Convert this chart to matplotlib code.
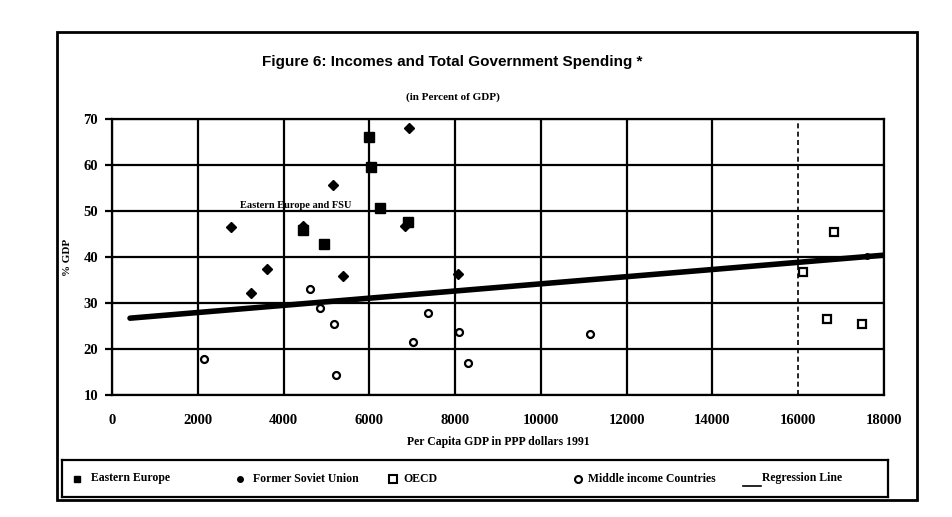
import matplotlib.pyplot as plt
from matplotlib.patches import Rectangle
from matplotlib.lines import Line2D

# data
ee_gdp = [6000, 6050, 6260, 4460, 4950, 6900]
ee_spend = [66.0, 59.6, 50.6, 45.8, 42.8, 47.7]

fsu_gdp = [6930, 5150, 2770, 4460, 6830, 3620, 5390, 8070, 3250]
fsu_spend = [68.0, 55.7, 46.5, 46.8, 46.7, 37.5, 35.9, 36.4, 32.2]

oecd_gdp = [16830, 16120, 16660, 17480, 17600]
oecd_spend = [45.5, 36.7, 26.5, 25.5, 40.2]

mic_gdp = [4620, 4850, 5180, 2150, 5220, 7370, 7020, 8100, 8290, 11140]
mic_spend = [33.0, 29.0, 25.4, 17.8, 14.3, 27.9, 21.5, 23.8, 17.0, 23.3]

reg_gdp = [420, 18000]
reg_spend = [26.7, 40.4]

x_ticks = list(range(0, 18001, 2000))
y_ticks = list(range(10, 71, 10))

legend_labels = ["Eastern Europe", "Former Soviet Union", "OECD",
                 "Middle income Countries", "Regression Line"]

serif = "Liberation Serif"
sans = "Liberation Sans"

W, H = 952, 517
fig = plt.figure(figsize=(W / 100, H / 100), dpi=100)


def fx(px):
    return px / W


def fy(py):
    return 1 - py / H


# outer frame
fig.add_artist(Rectangle((fx(57), fy(500)), fx(917) - fx(57), fy(32) - fy(500),
                         transform=fig.transFigure, fill=False, lw=2, ec="black"))

ax = fig.add_axes([fx(112), fy(395), fx(884) - fx(112), fy(119) - fy(395)])
ax.set_xlim(0, 18000)
ax.set_ylim(10, 70)
ax.set_xticks(x_ticks)
ax.set_yticks(y_ticks)
ax.grid(True, color="black", lw=1.6)
ax.set_axisbelow(True)
# the 16000 gridline prints broken in the original
ax.xaxis.get_gridlines()[8].set_linestyle((0, (3, 2)))
ax.xaxis.get_gridlines()[8].set_linewidth(1.2)
for s in ax.spines.values():
    s.set_linewidth(1.6)

ax.tick_params(axis="y", length=5, width=1.6, pad=5, labelsize=10.5)
ax.tick_params(axis="x", length=0, pad=14, labelsize=10.5)
for lab in ax.get_xticklabels() + ax.get_yticklabels():
    lab.set_fontfamily(serif)
    lab.set_fontweight("bold")

ax.plot(ee_gdp, ee_spend, "s", color="black", ms=6.5, zorder=3)
ax.plot(fsu_gdp, fsu_spend, "D", color="black", ms=5, zorder=3)
ax.plot(oecd_gdp[:-1], oecd_spend[:-1], "s", mfc="white", mec="black", mew=1.6, ms=5.5, zorder=3)
# last OECD point sits under the regression line
ax.plot(oecd_gdp[-1:], oecd_spend[-1:], "o", color="black", ms=4, zorder=5)
ax.plot(mic_gdp, mic_spend, "o", mfc="white", mec="black", mew=1.6, ms=5, zorder=3)
ax.plot(reg_gdp, reg_spend, "-", color="black", lw=4, solid_capstyle="round", zorder=4)

ax.text(4280, 51.3, "Eastern Europe and FSU", family=serif, weight="bold",
        fontsize=7.5, ha="center", va="center", zorder=5)

ax.set_xlabel("Per Capita GDP in PPP dollars 1991", family=serif, weight="bold",
              fontsize=8.5, labelpad=6)
ax.set_ylabel("% GDP", family=serif, weight="bold", fontsize=8, labelpad=8)

fig.text(fx(452), fy(62), "Figure 6: Incomes and Total Government Spending *",
         family=sans, weight="bold", fontsize=11, ha="center", va="center")
fig.text(fx(453), fy(97), "(in Percent of GDP)", family=serif, weight="bold",
         fontsize=8, ha="center", va="center")

# legend box along the bottom
lax = fig.add_axes([fx(62), fy(497), fx(888) - fx(62), fy(460) - fy(497)])
lax.set_xlim(62, 888)
lax.set_ylim(0, 1)
lax.set_xticks([])
lax.set_yticks([])
for s in lax.spines.values():
    s.set_linewidth(1.6)

ly = 0.5
lax.plot(77, ly, "s", color="black", ms=5)
lax.plot(240, ly, "o", color="black", ms=4)
lax.plot(393, ly, "s", mfc="white", mec="black", mew=1.5, ms=5.5)
lax.plot(578, ly, "o", mfc="white", mec="black", mew=1.5, ms=5)
lax.add_line(Line2D([743, 761], [0.3, 0.3], color="black", lw=1.2))
text_x = [91, 253, 403, 588, 762]
for x, lab in zip(text_x, legend_labels):
    lax.text(x, ly, lab, family=serif, weight="bold", fontsize=8.5, ha="left", va="center")

fig.savefig("out.png", dpi=100)
